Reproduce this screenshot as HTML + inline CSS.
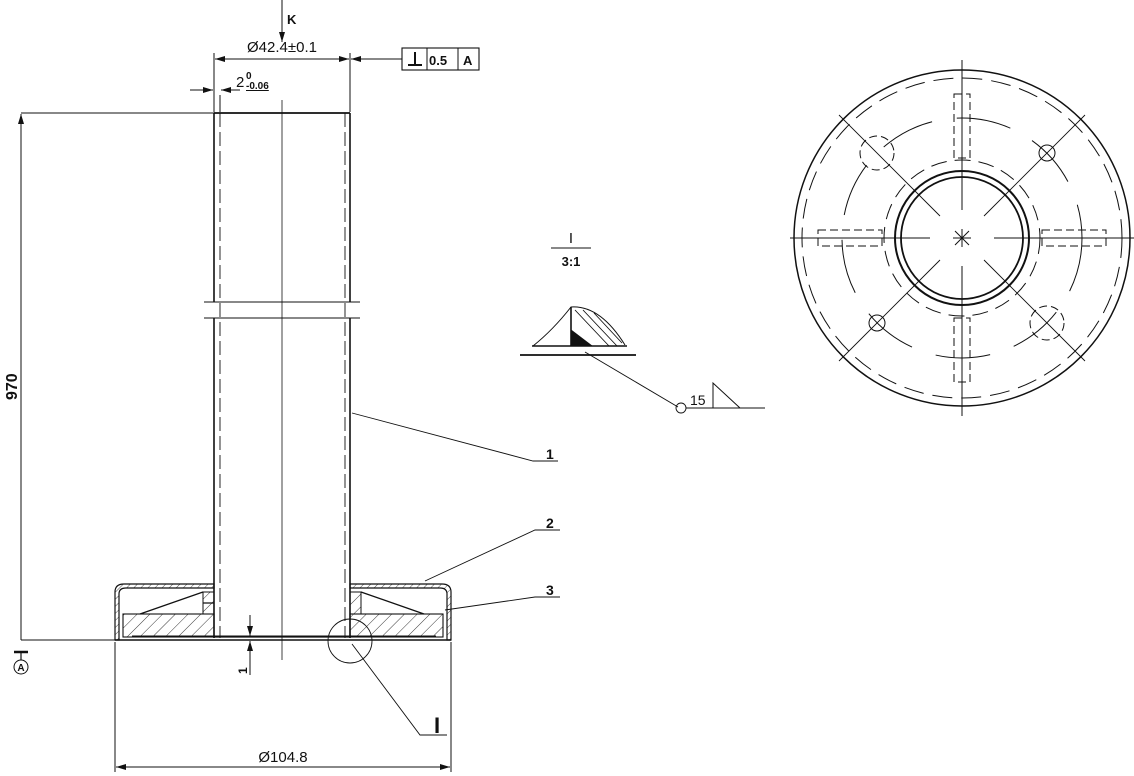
<!DOCTYPE html>
<html><head><style>
html,body{margin:0;padding:0;background:#fff;width:1134px;height:776px;overflow:hidden}
text{font-family:"Liberation Sans",sans-serif;fill:#111}
</style></head><body>
<svg width="1134" height="776" viewBox="0 0 1134 776" xmlns="http://www.w3.org/2000/svg">
<defs>
<pattern id="h" width="9" height="9" patternUnits="userSpaceOnUse" patternTransform="rotate(45)">
<line x1="0" y1="0" x2="0" y2="9" stroke="#222" stroke-width="0.9"/></pattern>
<pattern id="h2" width="5" height="5" patternUnits="userSpaceOnUse" patternTransform="rotate(45)">
<line x1="0" y1="0" x2="0" y2="5" stroke="#222" stroke-width="0.8"/></pattern>
<marker id="a" markerWidth="10" markerHeight="6" refX="10" refY="3" orient="auto" markerUnits="userSpaceOnUse"><path d="M0,0 L10,3 L0,6z" fill="#111"/></marker>
</defs>
<g stroke="#111" fill="none">
<!-- tube -->
<line x1="214" y1="113" x2="214" y2="302" stroke-width="1.6"/>
<line x1="350" y1="113" x2="350" y2="302" stroke-width="1.6"/>
<line x1="214" y1="318" x2="214" y2="638" stroke-width="1.6"/>
<line x1="350" y1="318" x2="350" y2="638" stroke-width="1.6"/>
<line x1="214" y1="113" x2="350" y2="113" stroke-width="1.8"/>
<line x1="220" y1="113" x2="220" y2="638" stroke-dasharray="14,5" stroke-width="0.9"/>
<line x1="345" y1="113" x2="345" y2="638" stroke-dasharray="14,5" stroke-width="0.9"/>
<line x1="282" y1="100" x2="282" y2="660" stroke-width="0.8"/>
<line x1="204" y1="302" x2="360" y2="302" stroke-width="1"/>
<line x1="204" y1="318" x2="360" y2="318" stroke-width="1"/>
<!-- base -->
<line x1="115" y1="640" x2="451" y2="640" stroke-width="1.6"/>
<line x1="21" y1="640" x2="115" y2="640" stroke-width="1"/>
<line x1="214" y1="637" x2="350" y2="637" stroke-width="1.2"/>
<!-- cover (2) -->
<path d="M115,640 V592 Q115,584 124,584 H214 V588 H126 Q119,588 119,594 V640z" fill="url(#h2)" stroke-width="1.2"/>
<path d="M451,640 V592 Q451,584 442,584 H350 V588 H440 Q447,588 447,594 V640z" fill="url(#h2)" stroke-width="1.2"/>
<!-- plates -->
<rect x="123" y="614" width="91" height="23" fill="url(#h)" stroke-width="1.1"/>
<rect x="350" y="614" width="93" height="23" fill="url(#h)" stroke-width="1.1"/>
<rect x="203" y="592" width="11" height="22" fill="url(#h)" stroke-width="1"/>
<rect x="350" y="592" width="11" height="22" fill="url(#h)" stroke-width="1"/>
<path d="M140,614 L203,592 M203,603 L214,603" stroke-width="1.3"/>
<path d="M424,614 L361,592" stroke-width="1.3"/>
<line x1="132" y1="636" x2="436" y2="636" stroke-width="1"/>
<circle cx="350" cy="641" r="22" stroke-width="0.9"/>
<!-- dims -->
<line x1="21" y1="640" x2="21" y2="114" stroke-width="1" marker-end="url(#a)"/>
<line x1="21" y1="113" x2="214" y2="113" stroke-width="1"/>
<line x1="115" y1="642" x2="115" y2="772" stroke-width="1"/>
<line x1="451" y1="642" x2="451" y2="772" stroke-width="1"/>
<line x1="283" y1="767" x2="116" y2="767" stroke-width="1" marker-end="url(#a)"/>
<line x1="283" y1="767" x2="450" y2="767" stroke-width="1" marker-end="url(#a)"/>
<line x1="214" y1="53" x2="214" y2="112" stroke-width="1"/>
<line x1="350" y1="53" x2="350" y2="112" stroke-width="1"/>
<line x1="282" y1="59" x2="215" y2="59" stroke-width="1" marker-end="url(#a)"/>
<line x1="282" y1="59" x2="349" y2="59" stroke-width="1" marker-end="url(#a)"/>
<line x1="385" y1="59" x2="351" y2="59" stroke-width="1" marker-end="url(#a)"/>
<line x1="385" y1="59" x2="402" y2="59" stroke-width="1"/>
<line x1="282" y1="0" x2="282" y2="42" stroke-width="1" marker-end="url(#a)"/>
<line x1="220" y1="95" x2="220" y2="112" stroke-width="1"/>
<line x1="190" y1="90" x2="213" y2="90" stroke-width="1" marker-end="url(#a)"/>
<line x1="240" y1="90" x2="221" y2="90" stroke-width="1" marker-end="url(#a)"/>
<line x1="250" y1="615" x2="250" y2="636" stroke-width="1" marker-end="url(#a)"/>
<line x1="250" y1="675" x2="250" y2="641" stroke-width="1" marker-end="url(#a)"/>
<rect x="402" y="48" width="77" height="22" stroke-width="1.1"/>
<line x1="427" y1="48" x2="427" y2="70" stroke-width="1"/>
<line x1="458" y1="48" x2="458" y2="70" stroke-width="1"/>
<path d="M415,52 V65 M408,65 H422" stroke-width="2"/>
<!-- leaders -->
<path d="M352,413 L533,461 H558" stroke-width="0.9"/>
<path d="M425,581 L535,530 H560" stroke-width="0.9"/>
<path d="M445,610 L535,597 H560" stroke-width="0.9"/>
<path d="M352,644 L420,735 H447" stroke-width="0.9"/>
<!-- A datum -->
<circle cx="21" cy="667" r="7" stroke-width="1"/>
<path d="M14,652 H28" stroke-width="2.5"/>
<path d="M21,652 V660" stroke-width="1.2"/>
<!-- detail I -->
<line x1="551" y1="248" x2="591" y2="248" stroke-width="1"/>
<path d="M533,346 Q553,330 571,307 Q600,305 625,345" stroke-width="1"/>
<line x1="532" y1="346" x2="627" y2="346" stroke-width="1.6"/>
<line x1="520" y1="355" x2="636" y2="355" stroke-width="1.8"/>
<line x1="571" y1="307" x2="571" y2="346" stroke-width="1.6"/>
<path d="M571,330 L592,346 H571z" fill="#111"/>
<path d="M575,310 L609,346 M583,310 L617,346 M594,313 L622,343" stroke-width="0.9"/>
<path d="M585,352 L678,407" stroke-width="0.9"/>
<circle cx="681" cy="408" r="5" stroke-width="0.9"/>
<path d="M686,408 H765 M713,408 V383 L740,408" stroke-width="1"/>
<!-- right view -->
<circle cx="962" cy="238" r="168" stroke-width="1.5"/>
<circle cx="962" cy="238" r="160" stroke-width="1" stroke-dasharray="20,9"/>
<circle cx="962" cy="238" r="120" stroke-width="1" stroke-dasharray="55,25"/>
<circle cx="962" cy="238" r="78" stroke-width="1" stroke-dasharray="16,8"/>
<circle cx="962" cy="238" r="67" stroke-width="2"/>
<circle cx="962" cy="238" r="61" stroke-width="1.8"/>
<path d="M790,238 H930 M994,238 H1134 M962,60 V210 M962,266 V416 M953,238 H971 M962,229 V247 M955,231 L969,245 M969,231 L955,245" stroke-width="1"/>
<path d="M839,115 L940,216 M984,216 L1085,115 M839,361 L940,260 M984,260 L1085,361" stroke-width="0.9"/>
<g stroke-dasharray="8,4" stroke-width="1">
<rect x="954" y="94" width="16" height="64"/>
<rect x="954" y="318" width="16" height="64"/>
<rect x="818" y="230" width="64" height="16"/>
<rect x="1042" y="230" width="64" height="16"/>
<circle cx="877" cy="153" r="17"/>
<circle cx="1047" cy="323" r="17"/>
</g>
<circle cx="1047" cy="153" r="8" stroke-width="1"/>
<circle cx="877" cy="323" r="8" stroke-width="1"/>
</g>
<g>
<text x="282" y="52" font-size="15" text-anchor="middle">Ø42.4±0.1</text>
<text x="287" y="24" font-size="13" font-family="Liberation Serif" font-weight="bold">K</text>
<text x="236" y="87" font-size="15">2</text>
<text x="246" y="79" font-size="10" font-weight="bold">0</text>
<text x="246" y="89" font-size="10" font-weight="bold" text-decoration="underline">-0.06</text>
<text x="429" y="65" font-size="13" font-weight="bold">0.5</text>
<text x="463" y="65" font-size="13" font-weight="bold">A</text>
<text x="283" y="762" font-size="15" text-anchor="middle">Ø104.8</text>
<text transform="translate(17,400) rotate(-90)" font-size="16" font-weight="bold">970</text>
<text transform="translate(247,674) rotate(-90)" font-size="12" font-weight="bold">1</text>
<text x="21" y="671" font-size="10" font-weight="bold" text-anchor="middle">A</text>
<text x="546" y="459" font-size="14" font-weight="bold">1</text>
<text x="546" y="528" font-size="14" font-weight="bold">2</text>
<text x="546" y="595" font-size="14" font-weight="bold">3</text>
<text x="434" y="733" font-size="22" font-family="Liberation Serif" font-weight="bold">I</text>
<text x="571" y="243" font-size="15" font-family="Liberation Serif" text-anchor="middle">I</text>
<text x="571" y="266" font-size="13" font-family="Liberation Serif" font-weight="bold" text-anchor="middle">3:1</text>
<text x="690" y="405" font-size="14">15</text>
</g>
</svg>
</body></html>
